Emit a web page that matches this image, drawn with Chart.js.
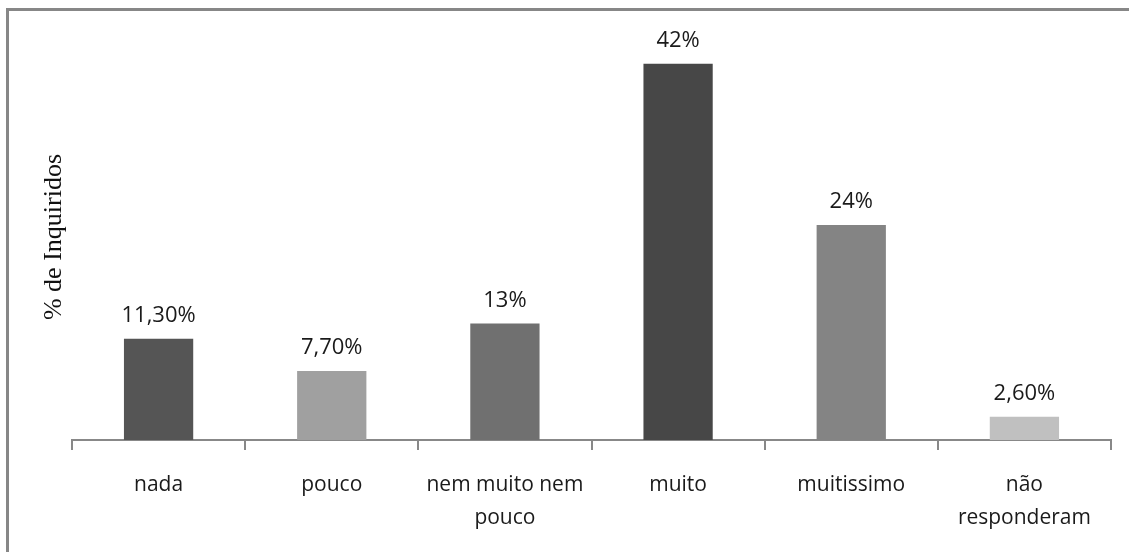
<!DOCTYPE html>
<html>
<head>
<meta charset="utf-8">
<script src="https://cdn.jsdelivr.net/npm/chart.js@4"></script>
<style>
  html, body { margin: 0; padding: 0; background: #fff; }
  #wrap { width: 1129px; height: 552px; position: relative; }
</style>
</head>
<body>
<div id="wrap"><canvas id="myChart"></canvas></div>
<script>
// categories and values
var categories = [
  ['nada'],
  ['pouco'],
  ['nem muito nem', 'pouco'],
  ['muito'],
  ['muitissimo'],
  ['não', 'responderam']
]
var values = [11.3, 7.7, 13, 42, 24, 2.6]
var valueLabels = ['11,30%', '7,70%', '13%', '42%', '24%', '2,60%']
var barColors = ['#555555', '#a0a0a0', '#707070', '#474747', '#848484', '#c0c0c0']
var yTitle = '% de Inquiridos'

// frame lines (top and left) and the rotated y title
var framePlugin = {
  id: 'frame',
  afterDraw: function(chart) {
    var ctx = chart.ctx
    ctx.save()
    ctx.fillStyle = '#878787'
    ctx.fillRect(6, 8, chart.width - 6, 3)
    ctx.fillRect(6, 8, 3, chart.height - 8)

    ctx.translate(61, 237)
    ctx.rotate(-Math.PI / 2)
    ctx.fillStyle = '#111'
    ctx.font = '26px "Liberation Serif", "DejaVu Serif", serif'
    ctx.textAlign = 'center'
    ctx.textBaseline = 'alphabetic'
    ctx.fillText(yTitle, 0, 0)
    ctx.restore()
  }
}

// value labels above each bar
var valuePlugin = {
  id: 'values',
  afterDatasetsDraw: function(chart) {
    var ctx = chart.ctx
    var meta = chart.getDatasetMeta(0)
    ctx.save()
    ctx.fillStyle = '#1a1a1a'
    ctx.font = '22px "Open Sans", sans-serif'
    ctx.textAlign = 'center'
    ctx.textBaseline = 'alphabetic'
    for (var i = 0; i < meta.data.length; i++) {
      var bar = meta.data[i]
      ctx.fillText(valueLabels[i], bar.x, bar.y - 17)
    }
    ctx.restore()
  }
}

var ctx = document.getElementById('myChart').getContext('2d')
var chart = new Chart(ctx, {
  type: 'bar',
  data: {
    labels: categories,
    datasets: [{
      data: values,
      backgroundColor: barColors,
      borderWidth: 0,
      barPercentage: 0.4,
      categoryPercentage: 1
    }]
  },
  options: {
    responsive: true,
    maintainAspectRatio: false,
    animation: false,
    layout: {
      padding: { left: 72, right: 18, top: 37, bottom: 0 }
    },
    plugins: {
      legend: { display: false },
      tooltip: { enabled: false }
    },
    scales: {
      x: {
        // fixed height so the baseline lands where it does in the picture
        afterFit: function(scale) {
          scale.height = 112
        },
        border: { display: true, color: '#888', width: 2 },
        grid: {
          display: true,
          drawOnChartArea: false,
          drawTicks: true,
          tickLength: 10,
          color: '#888',
          lineWidth: 2
        },
        ticks: {
          color: '#1a1a1a',
          padding: 18,
          maxRotation: 0,
          autoSkip: false,
          font: { family: '"Open Sans", sans-serif', size: 21, lineHeight: 1.6 }
        }
      },
      y: {
        display: false,
        min: 0,
        max: 45
      }
    }
  },
  plugins: [framePlugin, valuePlugin]
})
</script>
</body>
</html>
